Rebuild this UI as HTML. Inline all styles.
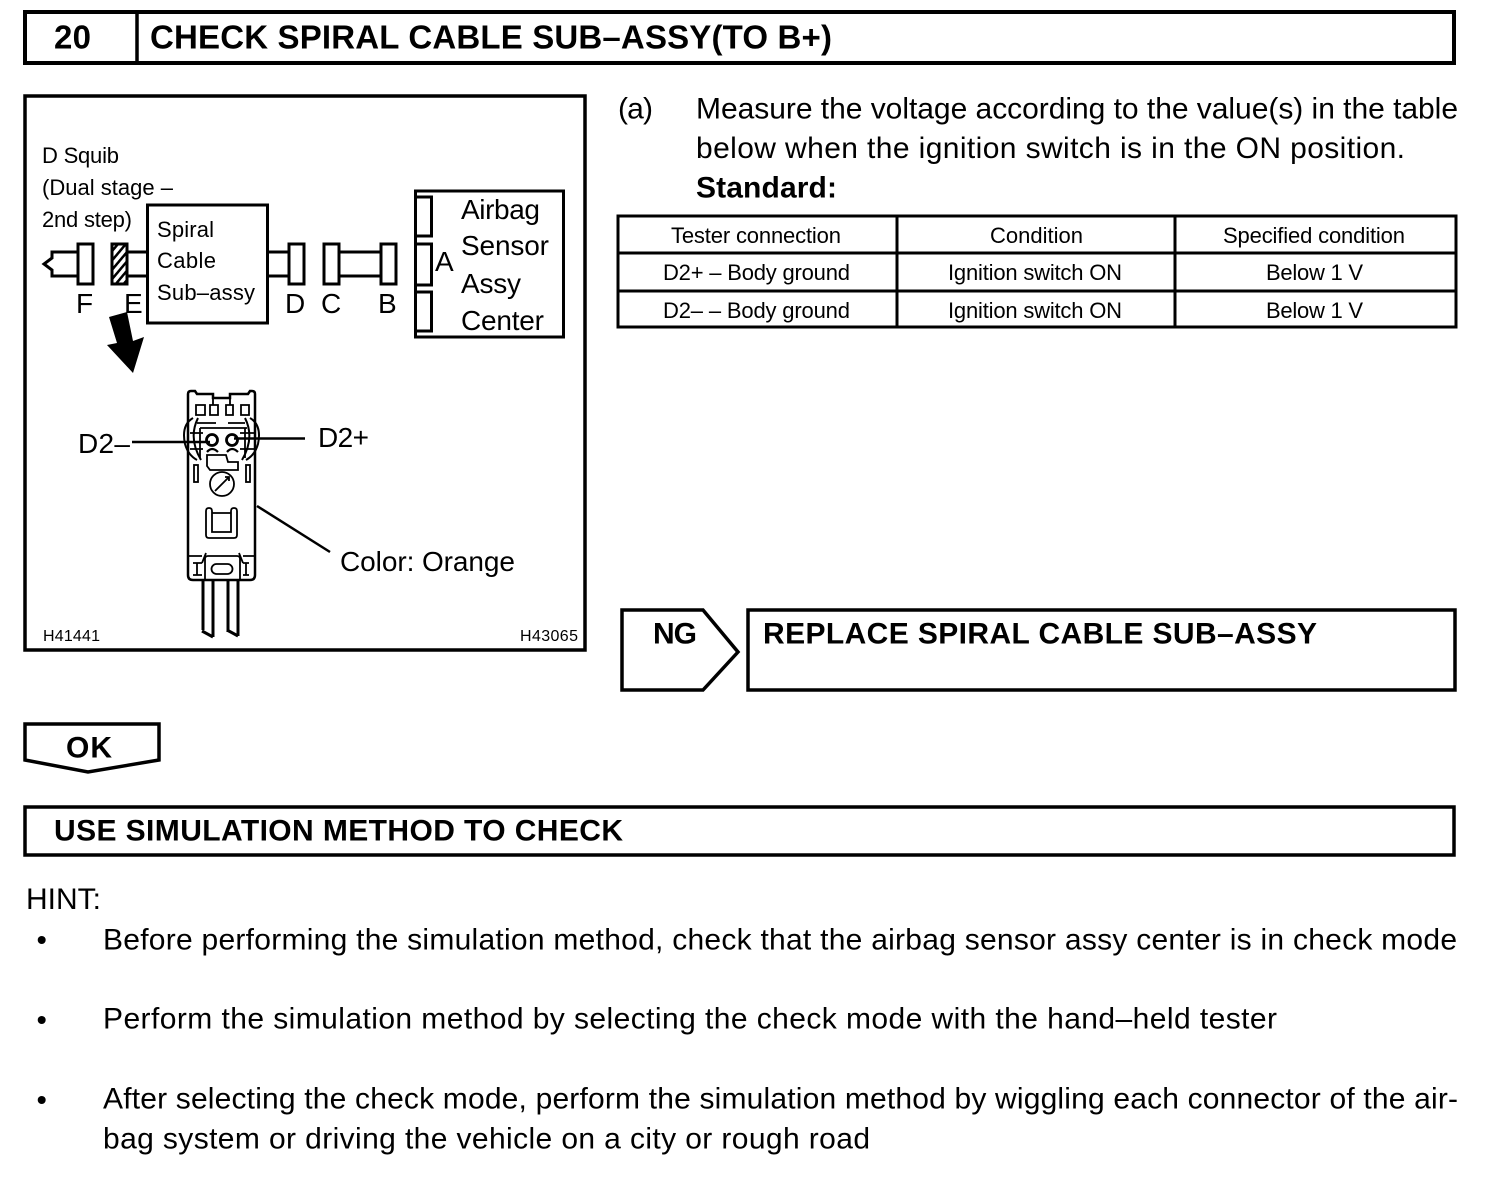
<!DOCTYPE html>
<html><head><meta charset="utf-8"><style>
html,body{margin:0;padding:0;background:#fff}
svg{display:block}
text{font-family:"Liberation Sans",sans-serif;fill:#000;font-size:30px}
.b{font-weight:bold}
.s{font-size:22px}
.d{font-size:22px}
.m{font-size:28px}
.t{font-size:16px}
.h{font-size:33px}
.k{fill:none;stroke:#000;stroke-width:3}
</style></head><body>
<svg width="1504" height="1194" viewBox="0 0 1504 1194" xmlns="http://www.w3.org/2000/svg">
<defs><pattern id="h" width="6" height="6" patternUnits="userSpaceOnUse" patternTransform="rotate(40)"><rect width="6" height="6" fill="#fff"/><rect width="2.500" height="6" fill="#000"/></pattern></defs>
<rect width="1504" height="1194" fill="#fff"/>

<!-- header -->
<rect x="25" y="12" width="1429" height="51" fill="none" stroke="#000" stroke-width="4"/>
<line x1="137" y1="12" x2="137" y2="63" stroke="#000" stroke-width="3.500"/>
<text class="b h" x="54" y="48.500" textLength="37">20</text>
<text class="b h" x="150" y="48.500" textLength="682">CHECK SPIRAL CABLE SUB–ASSY(TO B+)</text>

<!-- diagram frame -->
<rect x="25" y="96" width="560" height="554" fill="none" stroke="#000" stroke-width="3.500"/>
<text class="d" x="42" y="163" textLength="77">D Squib</text>
<text class="d" x="42" y="195" textLength="131">(Dual stage –</text>
<text class="d" x="42" y="227" textLength="90">2nd step)</text>

<rect x="147.500" y="205" width="120" height="118" class="k"/>
<text class="d" x="157" y="237" textLength="57">Spiral</text>
<text class="d" x="157" y="268" textLength="59">Cable</text>
<text class="d" x="157" y="300" textLength="98">Sub–assy</text>

<rect x="415.500" y="191" width="148" height="146" class="k"/>
<rect x="415.500" y="197" width="16" height="39" class="k"/>
<rect x="415.500" y="244" width="16" height="41" class="k"/>
<rect x="415.500" y="292" width="16" height="39" class="k"/>
<text class="m" x="461" y="219" textLength="79">Airbag</text>
<text class="m" x="461" y="255" textLength="88">Sensor</text>
<text class="m" x="461" y="293" textLength="60">Assy</text>
<text class="m" x="461" y="330" textLength="83">Center</text>
<text class="m" x="435" y="271" textLength="19">A</text>

<path class="k" d="M77 252H52V258L44 264L52 270V276H77"/>
<rect x="78" y="244" width="15" height="40" class="k"/>
<rect x="112" y="244" width="15" height="40" fill="url(#h)" stroke="#000" stroke-width="3"/>
<path class="k" d="M127 252H148M127 276H148M268 252H289M268 276H289M339 252H381M339 276H381"/>
<rect x="289" y="244" width="15" height="40" class="k"/>
<rect x="324" y="244" width="15" height="40" class="k"/>
<rect x="381" y="244" width="15" height="40" class="k"/>
<text class="m" x="76" y="313" textLength="15">F</text>
<text class="m" x="124" y="313" textLength="16">E</text>
<text class="m" x="285" y="313" textLength="18">D</text>
<text class="m" x="321" y="313" textLength="19">C</text>
<text class="m" x="378" y="313" textLength="18">B</text>

<polygon points="109,317 127,312 133,341 144,337 133,373 107,345 117,343" fill="#000"/>

<!-- connector -->
<g fill="none" stroke="#000" stroke-width="1.800">
<path stroke-width="2.500" d="M188 575V394Q188 391 191 391H195L197 394H213V398H230V394H248L250 391H252Q255 391 255 394V575Q255 580 250 580H193Q188 580 188 575Z"/>
<path d="M213 398V405M230 398V405M196 405H205V415H196ZM210 405H218V415H210ZM226 405H233V415H226ZM241 405H249V415H241Z"/>
<path stroke-width="2" d="M193 418Q181 425 185 444Q188 455 197 460M198 418Q188 438 201 460M250 418Q262 425 258 444Q255 455 246 460M245 418Q255 438 242 460"/>
<path d="M200 428H247M197 423H216M228 423H245M200 428V458M245 428V458M190 433H203M240 433H256M190 449H203M240 449H256"/>
<circle cx="212" cy="440" r="5.500" stroke-width="2.800"/><circle cx="232" cy="440" r="5.500" stroke-width="2.800"/>
<path stroke-width="2.200" d="M207 452Q212 446 218 452M227 452Q232 446 238 452"/>
<path d="M207 455H226L228 462H238V470H210L207 466Z"/>
<rect x="194" y="465" width="4" height="17"/><rect x="246" y="465" width="4" height="17"/>
<circle cx="222" cy="484" r="12"/><path d="M215 491L229 477M225 477H229V481"/>
<path d="M206 511Q206 508 209 508Q212 508 212 511V532H231V511Q231 508 234 508Q237 508 237 511V535Q237 538 234 538H209Q206 538 206 535ZM212 513H231"/>
<path d="M188 556H202M243 556H255M205 580V559Q205 556 208 556H237Q240 556 240 559V580M202 563L206 553M243 563L239 553M197 563V575M246 563V575M193 563H202M193 575H202M243 563H249M243 575H249"/>
<rect x="211.500" y="564" width="21" height="10" rx="5"/>
</g>
<path d="M203 580V630M213 580V637M228 580V632M238 580V636M202 631L213 637M227 630L238 636" fill="none" stroke="#000" stroke-width="3"/>
<line x1="132" y1="442" x2="210" y2="442" stroke="#000" stroke-width="2.500"/>
<line x1="234" y1="438.500" x2="305" y2="438.500" stroke="#000" stroke-width="2.500"/>
<line x1="257" y1="506" x2="330" y2="552" stroke="#000" stroke-width="2.500"/>
<text class="m" x="78" y="453" textLength="52">D2–</text>
<text class="m" x="318" y="447" textLength="51">D2+</text>
<text class="m" x="340" y="571" textLength="175">Color: Orange</text>
<text class="t" x="43" y="641" textLength="57">H41441</text>
<text class="t" x="520" y="641" textLength="58">H43065</text>

<!-- right text -->
<text x="618" y="118.500" textLength="35">(a)</text>
<text x="696" y="118.500" textLength="762">Measure the voltage according to the value(s) in the table</text>
<text x="696" y="158" textLength="709">below when the ignition switch is in the ON position.</text>
<text class="b" x="696" y="197.500" textLength="141">Standard:</text>

<!-- table -->
<g fill="none" stroke="#000" stroke-width="3">
<rect x="618" y="216" width="838" height="111"/>
<path d="M618 253H1456M618 291H1456M897 216V327M1175 216V327"/>
</g>
<text class="s" x="671" y="243" textLength="170">Tester connection</text>
<text class="s" x="990" y="243" textLength="93">Condition</text>
<text class="s" x="1223" y="243" textLength="182">Specified condition</text>
<text class="s" x="663" y="280" textLength="187">D2+ – Body ground</text>
<text class="s" x="948" y="280" textLength="174">Ignition switch ON</text>
<text class="s" x="1266" y="280" textLength="97">Below 1 V</text>
<text class="s" x="663" y="318" textLength="187">D2– – Body ground</text>
<text class="s" x="948" y="318" textLength="174">Ignition switch ON</text>
<text class="s" x="1266" y="318" textLength="97">Below 1 V</text>

<!-- NG -->
<polygon points="622,610 703,610 738,652 703,690 622,690" fill="none" stroke="#000" stroke-width="3.500"/>
<rect x="748" y="610" width="707" height="80" fill="none" stroke="#000" stroke-width="3.500"/>
<text class="b" x="653" y="643.500" textLength="44">NG</text>
<text class="b" x="763" y="643.500" textLength="554">REPLACE SPIRAL CABLE SUB–ASSY</text>

<!-- OK -->
<polygon points="25,724 159,724 159,760 88,772 25,760" fill="none" stroke="#000" stroke-width="3.500"/>
<text class="b" x="66" y="757.500" textLength="46">OK</text>

<!-- simulation -->
<rect x="25" y="807" width="1429" height="48" fill="none" stroke="#000" stroke-width="3.500"/>
<text class="b" x="54" y="840.500" textLength="569">USE SIMULATION METHOD TO CHECK</text>

<text x="26" y="909" textLength="75">HINT:</text>
<circle cx="41.700" cy="940" r="4" fill="#000"/>
<circle cx="41.700" cy="1020" r="4" fill="#000"/>
<circle cx="41.700" cy="1100" r="4" fill="#000"/>
<text x="103" y="949.500" textLength="1354">Before performing the simulation method, check that the airbag sensor assy center is in check mode</text>
<text x="103" y="1028.500" textLength="1174">Perform the simulation method by selecting the check mode with the hand–held tester</text>
<text x="103" y="1108.500" textLength="1355">After selecting the check mode, perform the simulation method by wiggling each connector of the air-</text>
<text x="103" y="1148.500" textLength="767">bag system or driving the vehicle on a city or rough road</text>
</svg>
</body></html>
